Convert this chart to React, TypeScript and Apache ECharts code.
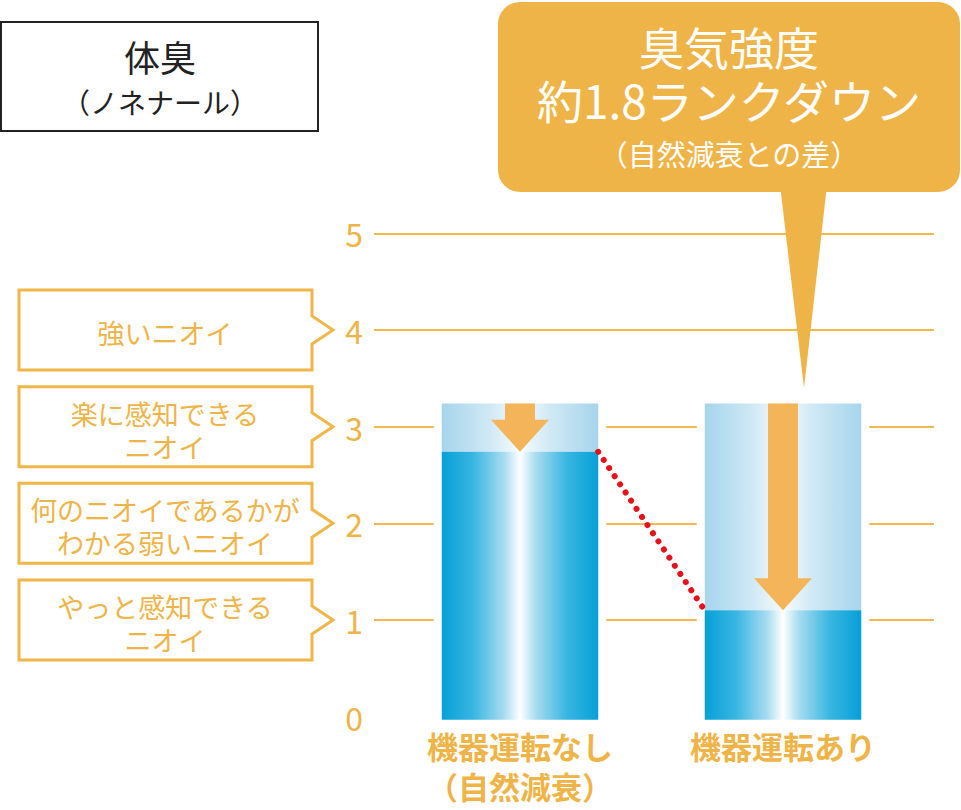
import React, { useEffect, useRef } from "react";
import * as echarts from "echarts";

const categories = ["機器運転なし\n（自然減衰）", "機器運転あり"];
const startLevels = [3.24, 3.24];
const endLevels = [2.74, 1.1];
const yTicks = [0, 1, 2, 3, 4, 5];

const scaleLabels = [
  { level: 4, text: "強いニオイ" },
  { level: 3, text: "楽に感知できる\nニオイ" },
  { level: 2, text: "何のニオイであるかが\nわかる弱いニオイ" },
  { level: 1, text: "やっと感知できる\nニオイ" },
];

const titleLines = ["体臭", "（ノネナール）"];
const calloutLines = ["臭気強度", "約1.8ランクダウン", "（自然減衰との差）"];

const ORANGE = "#efb447";
const ARROW = "#f4b45a";
const FONT = '"Noto Sans CJK JP", "Noto Sans", sans-serif';

const darkGrad = () =>
  new echarts.graphic.LinearGradient(0, 0, 1, 0, [
    { offset: 0, color: "#06a0d7" },
    { offset: 0.2, color: "#38b6e2" },
    { offset: 0.4, color: "#a9dcf0" },
    { offset: 0.5, color: "#ffffff" },
    { offset: 0.6, color: "#a9dcf0" },
    { offset: 0.8, color: "#38b6e2" },
    { offset: 1, color: "#06a0d7" },
  ]);

const lightGrad = () =>
  new echarts.graphic.LinearGradient(0, 0, 1, 0, [
    { offset: 0, color: "#a6d5ec" },
    { offset: 0.3, color: "#cfe8f5" },
    { offset: 0.5, color: "#f5fbfd" },
    { offset: 0.7, color: "#cfe8f5" },
    { offset: 1, color: "#a6d5ec" },
  ]);

const App: React.FC = () => {
  const chartRef = useRef<HTMLDivElement>(null);

  useEffect(() => {
    if (!chartRef.current) return;
    const chart = echarts.init(chartRef.current, undefined, { renderer: "svg" });

    const renderItem = (params: any, api: any) => {
      const i = api.value(0);
      const top = api.coord([i, api.value(1)]);
      const mid = api.coord([i, api.value(2)]);
      const base = api.coord([i, 0]);
      const bottom = base[1] + 3;
      const bw = api.size([1, 0])[0] * 0.595;
      const cx = top[0];
      const x = cx - bw / 2;
      const headH = 32;
      const children: any[] = [
        { type: "rect", shape: { x: x - 8, y: top[1], width: bw + 16, height: bottom - top[1] }, style: { fill: "#fff" } },
        { type: "rect", shape: { x, y: top[1], width: bw, height: mid[1] - top[1] }, style: { fill: lightGrad() } },
        { type: "rect", shape: { x, y: mid[1], width: bw, height: bottom - mid[1] }, style: { fill: darkGrad() } },
        {
          type: "polygon",
          shape: {
            points: [
              [cx - 15, top[1]],
              [cx + 15, top[1]],
              [cx + 15, mid[1] - headH],
              [cx + 29, mid[1] - headH],
              [cx, mid[1]],
              [cx - 29, mid[1] - headH],
              [cx - 15, mid[1] - headH],
            ],
          },
          style: { fill: ARROW },
        },
      ];
      if (i > 0) {
        const prev = api.coord([i - 1, endLevels[i - 1]]);
        children.push({
          type: "line",
          shape: { x1: prev[0] + bw / 2, y1: prev[1], x2: x, y2: mid[1] },
          style: { stroke: "#e8101a", lineWidth: 6, lineDash: [0.01, 9.8], lineCap: "round" },
        });
      }
      return { type: "group", children };
    };

    const option: any = {
      animation: false,
      grid: [
        { left: 374, right: 27, top: 233.3, bottom: 93.3 },
        { left: 388.5, right: 46.5, top: 233.3, bottom: 93.3 },
      ],
      xAxis: [
        { gridIndex: 0, type: "value", show: false },
        {
          gridIndex: 1,
          type: "category",
          data: categories,
          axisLine: { show: false },
          axisTick: { show: false },
          axisLabel: {
            color: ORANGE,
            fontSize: 31,
            fontWeight: "bold",
            fontFamily: FONT,
            lineHeight: 40,
            margin: 9,
            verticalAlign: "top",
          },
        },
      ],
      yAxis: [
        {
          gridIndex: 0,
          type: "value",
          min: yTicks[0],
          max: yTicks[yTicks.length - 1],
          interval: 1,
          axisLine: { show: false },
          axisTick: { show: false },
          axisLabel: { color: ORANGE, fontSize: 32, fontFamily: FONT, margin: 11 },
          splitLine: { showMinLine: false, lineStyle: { color: "#f2b94f", width: 2 } },
        },
        { gridIndex: 1, type: "value", min: 0, max: 5, show: false, splitLine: { show: false } },
      ],
      series: [
        {
          type: "custom",
          xAxisIndex: 1,
          yAxisIndex: 1,
          renderItem,
          data: categories.map((_, i) => [i, startLevels[i], endLevels[i]]),
        },
      ],
    };
    chart.setOption(option);

    const graphics: any[] = [];
    // title box
    graphics.push({
      type: "rect",
      z: 10,
      shape: { x: 1, y: 22, width: 317, height: 109 },
      style: { fill: "#fff", stroke: "#222", lineWidth: 2 },
    });
    graphics.push({
      type: "text",
      z: 11,
      style: { text: titleLines[0], x: 160, y: 56, fill: "#222", fontSize: 36, fontFamily: FONT, align: "center", verticalAlign: "middle" },
    });
    graphics.push({
      type: "text",
      z: 11,
      style: { text: titleLines[1], x: 160, y: 102, fill: "#222", fontSize: 28, fontFamily: FONT, align: "center", verticalAlign: "middle" },
    });

    // callout
    graphics.push({
      type: "polygon",
      z: 10,
      shape: { points: [[780, 185], [827, 185], [804, 388]] },
      style: { fill: ORANGE },
    });
    graphics.push({
      type: "rect",
      z: 10,
      shape: { x: 498, y: 2, width: 462, height: 190, r: 22 },
      style: { fill: ORANGE },
    });
    [
      { t: calloutLines[0], y: 46, s: 45 },
      { t: calloutLines[1], y: 99, s: 46 },
      { t: calloutLines[2], y: 153, s: 29 },
    ].forEach((l) =>
      graphics.push({
        type: "text",
        z: 11,
        style: { text: l.t, x: 729, y: l.y, fill: "#fff", fontSize: l.s, fontFamily: FONT, align: "center", verticalAlign: "middle" },
      })
    );

    // scale description boxes
    scaleLabels.forEach((s) => {
      const t = chart.convertToPixel({ yAxisIndex: 0 }, s.level) as number;
      graphics.push({
        type: "polygon",
        z: 10,
        shape: {
          points: [
            [19, t - 40],
            [312, t - 40],
            [312, t - 14],
            [333, t],
            [312, t + 14],
            [312, t + 40],
            [19, t + 40],
          ],
        },
        style: { fill: "#fff", stroke: "#f0b648", lineWidth: 3 },
      });
      graphics.push({
        type: "text",
        z: 11,
        style: {
          text: s.text,
          x: 165,
          y: t + 3,
          fill: ORANGE,
          fontSize: 27,
          lineHeight: 33,
          fontFamily: FONT,
          align: "center",
          verticalAlign: "middle",
        },
      });
    });
    chart.setOption({ graphic: graphics });

    return () => {
      chart.dispose();
    };
  }, []);

  return (
    <div
      ref={chartRef}
      style={{ position: "absolute", left: 0, top: 0, width: 961, height: 810, background: "#fff" }}
    />
  );
};

export default App;
